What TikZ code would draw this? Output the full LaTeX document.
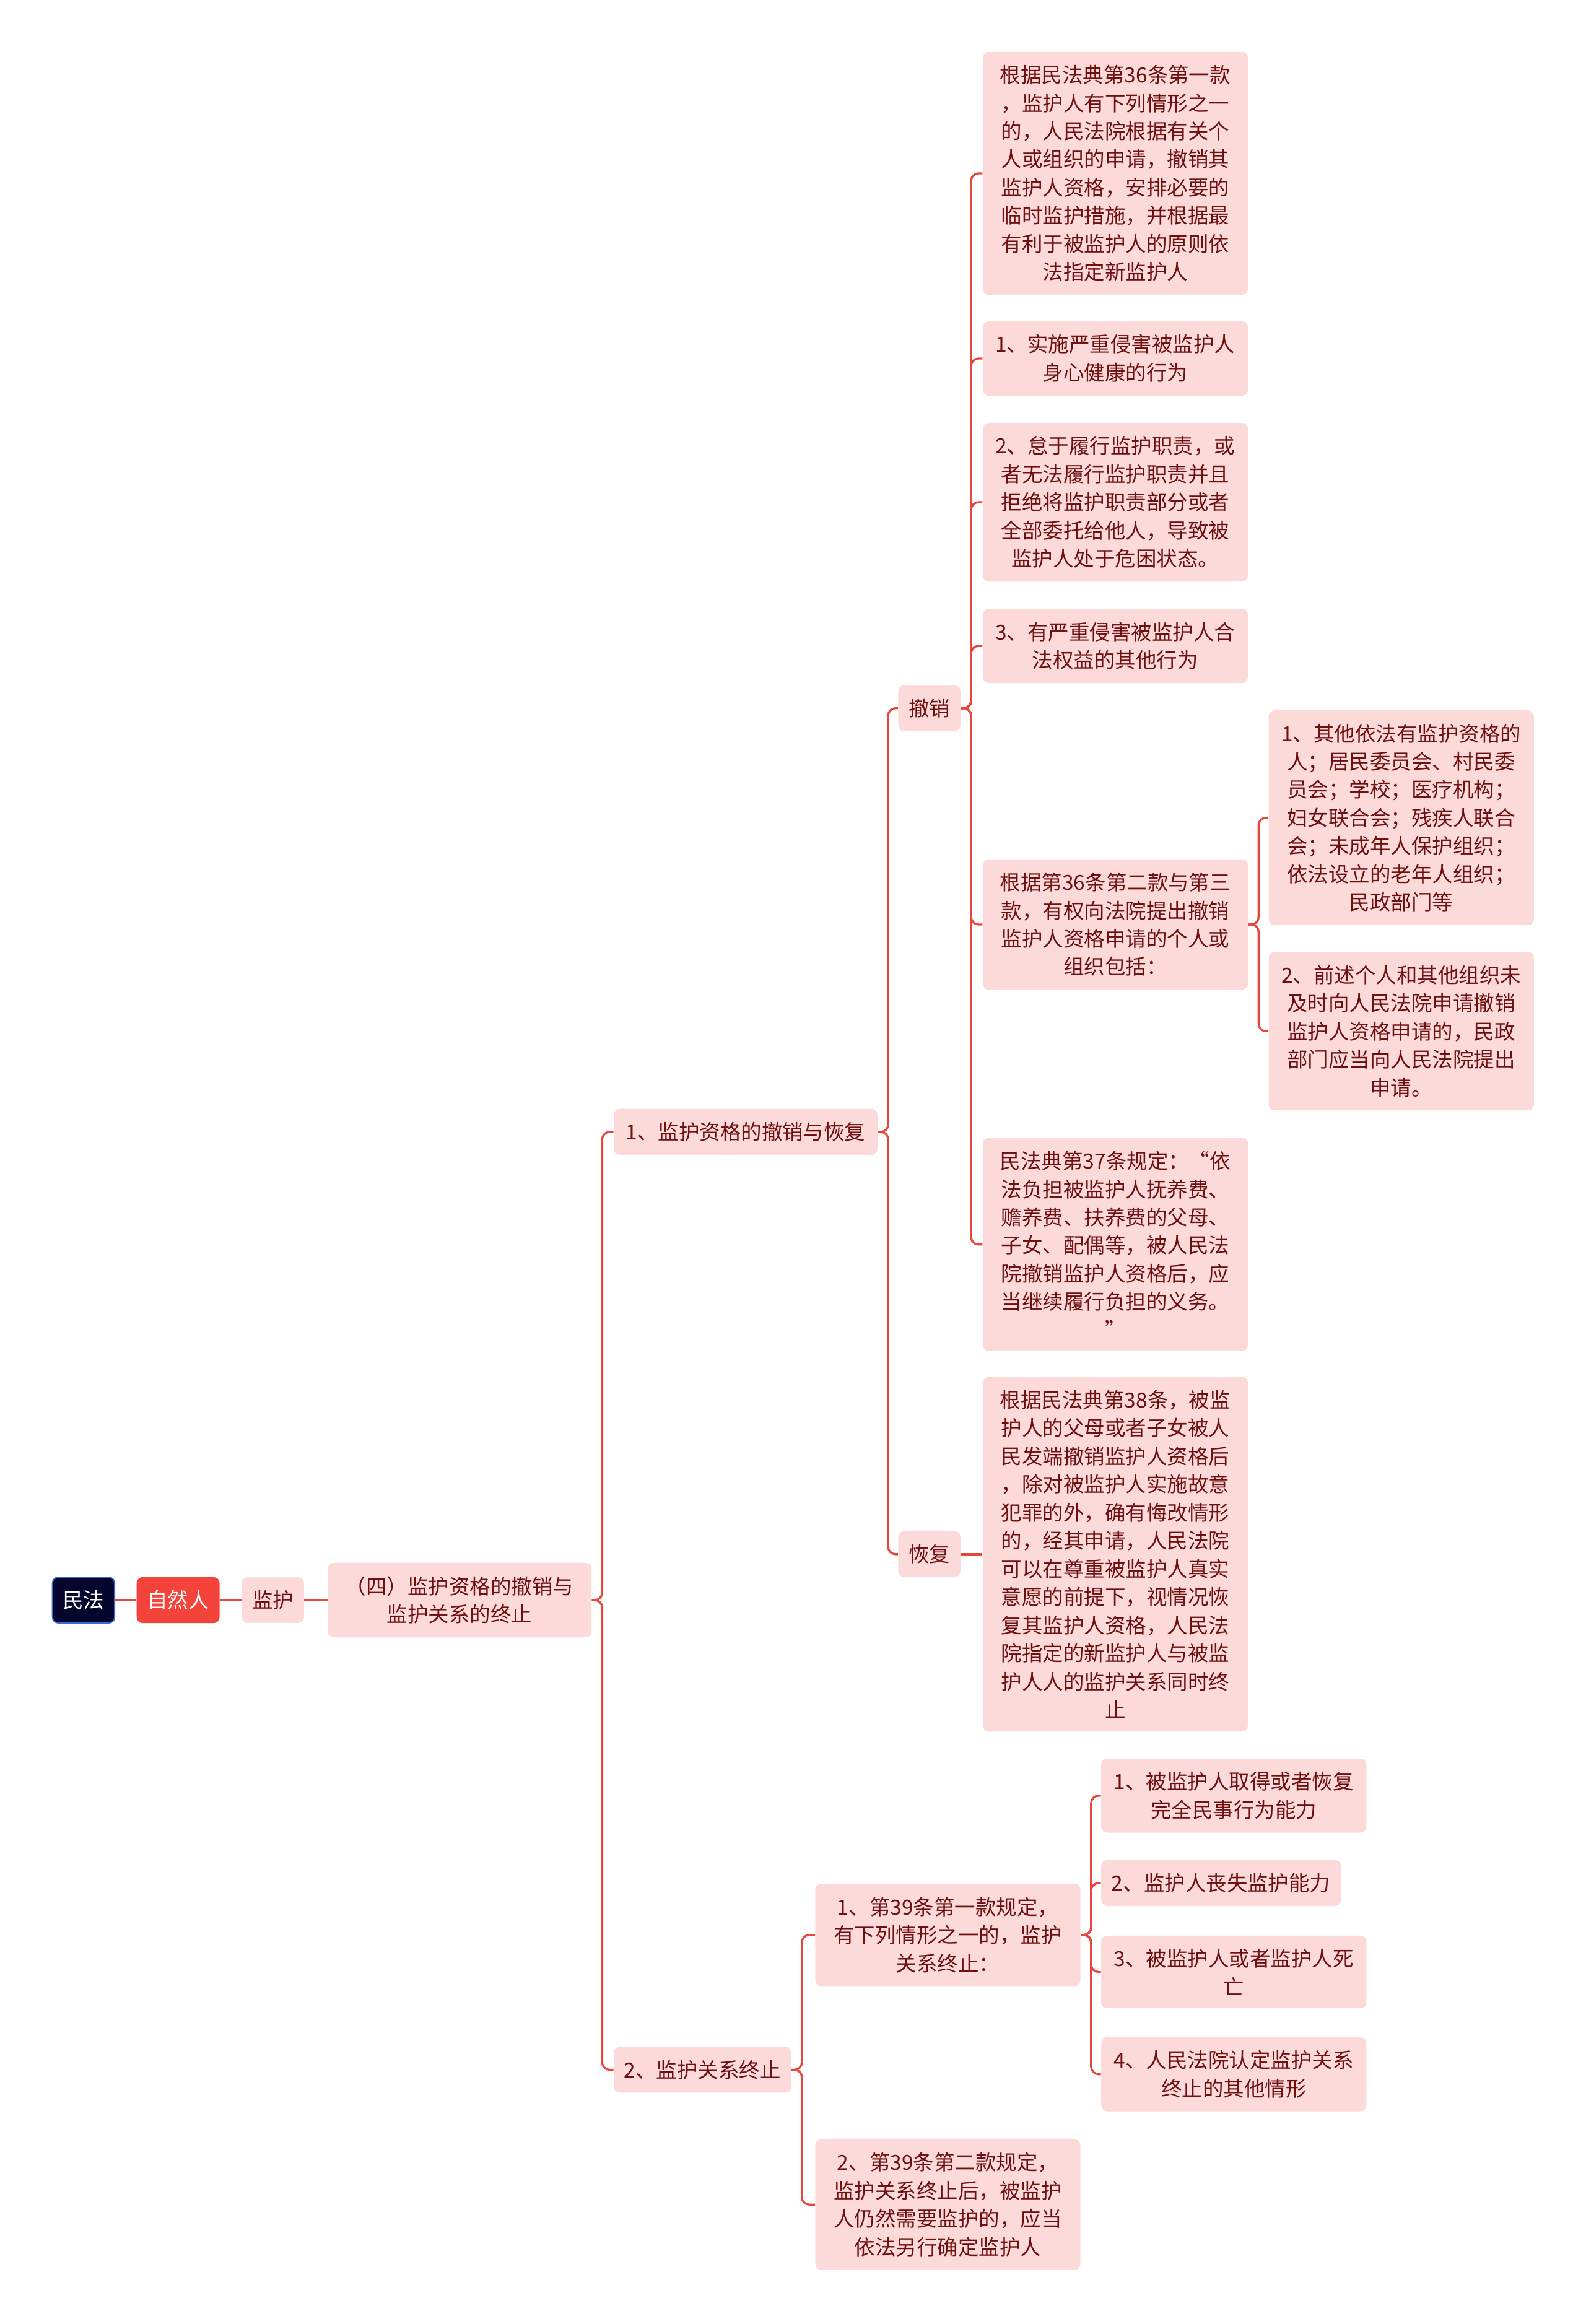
\documentclass[tikz,border=0pt]{standalone}
\usepackage{fontspec}
\setmainfont{Noto Sans CJK SC}

\begin{document}
\begin{tikzpicture}[x=1pt, y=-1pt,
  nodo/.style={rectangle, rounded corners=4pt, fill=colFoglia, text=colTesto,
    font=\fontsize{14}{19}\selectfont, align=center,
    inner xsep=7pt, inner ysep=9pt, anchor=west},
  foglia/.style={nodo, minimum width=179pt},
  link/.style={draw=colLinea, line width=1.4pt, rounded corners=5pt}]

% Colori
\definecolor{colFoglia}{HTML}{FDDADA}
\definecolor{colTesto}{HTML}{6E1010}
\definecolor{colLinea}{HTML}{E8453C}
\definecolor{colRosso}{HTML}{F4433A}
\definecolor{colNotte}{HTML}{05052E}
\definecolor{colBlu}{HTML}{3A6BD0}

% Cornice
\useasboundingbox (0,0) rectangle (1070,1568.6);

% Radice e primi livelli
\node[nodo, fill=colNotte, draw=colBlu, line width=0.8pt, text=white] (minfa) at (35,1080) {民法};
\node[nodo, fill=colRosso, text=white] (ziran) at (92,1080) {自然人};
\node[nodo] (jianhu) at (163,1080) {监护};
\node[nodo, minimum width=178pt] (si) at (221,1080) {（四）监护资格的撤销与\\监护关系的终止};

\node[nodo, minimum width=178pt] (ramo1) at (414,764) {1、监护资格的撤销与恢复};
\node[nodo] (ramo2) at (414,1397) {2、监护关系终止};

\node[nodo] (chexiao) at (606,478) {撤销};
\node[nodo] (huifu) at (606,1049) {恢复};

%撤销
\node[foglia] (a) at (663,117) {根据民法典第36条第一款\\，监护人有下列情形之一\\的，人民法院根据有关个\\人或组织的申请，撤销其\\监护人资格，安排必要的\\临时监护措施，并根据最\\有利于被监护人的原则依\\法指定新监护人};
\node[foglia] (b) at (663,242) {1、实施严重侵害被监护人\\身心健康的行为};
\node[foglia] (c) at (663,339) {2、怠于履行监护职责，或\\者无法履行监护职责并且\\拒绝将监护职责部分或者\\全部委托给他人，导致被\\监护人处于危困状态。};
\node[foglia] (d) at (663,436) {3、有严重侵害被监护人合\\法权益的其他行为};
\node[foglia] (e) at (663,624) {根据第36条第二款与第三\\款，有权向法院提出撤销\\监护人资格申请的个人或\\组织包括：};
\node[foglia] (e1) at (856,552) {1、其他依法有监护资格的\\人；居民委员会、村民委\\员会；学校；医疗机构；\\妇女联合会；残疾人联合\\会；未成年人保护组织；\\依法设立的老年人组织；\\民政部门等};
\node[foglia] (e2) at (856,696) {2、前述个人和其他组织未\\及时向人民法院申请撤销\\监护人资格申请的，民政\\部门应当向人民法院提出\\申请。};
\node[foglia] (f) at (663,840) {民法典第37条规定：“依\\法负担被监护人抚养费、\\赡养费、扶养费的父母、\\子女、配偶等，被人民法\\院撤销监护人资格后，应\\当继续履行负担的义务。\\”};

% 恢复
\node[foglia] (g) at (663,1049) {根据民法典第38条，被监\\护人的父母或者子女被人\\民发端撤销监护人资格后\\，除对被监护人实施故意\\犯罪的外，确有悔改情形\\的，经其申请，人民法院\\可以在尊重被监护人真实\\意愿的前提下，视情况恢\\复其监护人资格，人民法\\院指定的新监护人与被监\\护人人的监护关系同时终\\止};

% 监护关系终止
\node[foglia] (h) at (550,1306) {1、第39条第一款规定，\\有下列情形之一的，监护\\关系终止：};
\node[foglia] (i) at (550,1488) {2、第39条第二款规定，\\监护关系终止后，被监护\\人仍然需要监护的，应当\\依法另行确定监护人};
\node[foglia] (h1) at (743,1212) {1、被监护人取得或者恢复\\完全民事行为能力};
\node[nodo] (h2) at (743,1271) {2、监护人丧失监护能力};
\node[foglia] (h3) at (743,1331) {3、被监护人或者监护人死\\亡};
\node[foglia] (h4) at (743,1400) {4、人民法院认定监护关系\\终止的其他情形};

% Collegamenti
\draw[link] (minfa.east) -- (ziran.west);
\draw[link] (ziran.east) -- (jianhu.west);
\draw[link] (jianhu.east) -- (si.west);

\draw[link] (si.east) -- ++(7,0) |- (ramo1.west);
\draw[link] (si.east) -- ++(7,0) |- (ramo2.west);

\draw[link] (ramo1.east) -- ++(7,0) |- (chexiao.west);
\draw[link] (ramo1.east) -- ++(7,0) |- (huifu.west);

\draw[link] (chexiao.east) -- ++(7,0) |- (a.west);
\draw[link] (chexiao.east) -- ++(7,0) |- (b.west);
\draw[link] (chexiao.east) -- ++(7,0) |- (c.west);
\draw[link] (chexiao.east) -- ++(7,0) |- (d.west);
\draw[link] (chexiao.east) -- ++(7,0) |- (e.west);
\draw[link] (chexiao.east) -- ++(7,0) |- (f.west);

\draw[link] (e.east) -- ++(7,0) |- (e1.west);
\draw[link] (e.east) -- ++(7,0) |- (e2.west);

\draw[link] (huifu.east) -- (g.west);

\draw[link] (ramo2.east) -- ++(7,0) |- (h.west);
\draw[link] (ramo2.east) -- ++(7,0) |- (i.west);

\draw[link] (h.east) -- ++(7,0) |- (h1.west);
\draw[link] (h.east) -- ++(7,0) |- (h2.west);
\draw[link] (h.east) -- ++(7,0) |- (h3.west);
\draw[link] (h.east) -- ++(7,0) |- (h4.west);
\end{tikzpicture}
\end{document}
